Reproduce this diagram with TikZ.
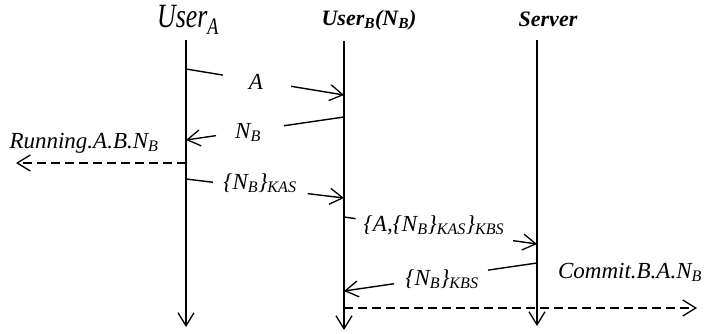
\documentclass[tikz,border=0pt]{standalone}
\usepackage{fontspec}
\setmainfont{Liberation Serif}
\usetikzlibrary{arrows.meta,calc}
\newcommand{\sbs}[1]{\textsubscript{#1}}
\begin{document}
\begin{tikzpicture}[x=1pt,y=-1pt, line width=1.4pt,
  tip/.style={-{Straight Barb[length=13pt,width=16pt,line width=1.3pt]}},
  lbl/.style={font=\fontsize{23}{23}\selectfont\itshape, inner sep=0pt, anchor=base},
  ttl/.style={font=\fontsize{22}{22}\selectfont\bfseries\itshape, inner sep=0pt, anchor=base},
  dsh/.style={dash pattern=on 9pt off 5pt}]
\useasboundingbox (0,0) rectangle (704,333);

% titles
\node[lbl] (tA) at (188,27) {\scalebox{0.76}[1]{\fontsize{34}{34}\selectfont User\sbs{A}}};
\node[ttl] (tB) at (369,25) {User\sbs{B}(N\sbs{B})};
\node[ttl] (tS) at (548,26) {Server};

% lifelines
\coordinate (Atop) at (186,40);  \coordinate (Abot) at (186,327);
\coordinate (Btop) at (344,41);  \coordinate (Bbot) at (344,330);
\coordinate (Stop) at (537,40);  \coordinate (Sbot) at (537,326);
\draw[tip] (Atop) -- (Abot);
\draw[tip] (Btop) -- (Bbot);
\draw[tip] (Stop) -- (Sbot);

% message 1: A
\coordinate (m1s) at (186,69); \coordinate (m1e) at (344,95);
\draw (m1s) -- ($(m1s)!0.234!(m1e)$);
\draw[tip] ($(m1s)!0.665!(m1e)$) -- (m1e);
\node[lbl] (l1) at (256,89) {A};

% message 2: N_B
\coordinate (m2s) at (344,117); \coordinate (m2e) at (186,140);
\draw (m2s) -- ($(m2s)!0.38!(m2e)$);
\draw[tip] ($(m2s)!0.81!(m2e)$) -- (m2e);
\node[lbl] (l2) at (248,138) {N\sbs{B}};

% running
\coordinate (rs) at (186,163); \coordinate (re) at (16,163);
\draw[tip,dsh] (rs) -- (re);
\node[lbl] (lr) at (84,148) {Running.A.B.N\sbs{B}};

% message 3: {N_B}_KAS
\coordinate (m3s) at (186,179); \coordinate (m3e) at (344,198);
\draw (m3s) -- ($(m3s)!0.17!(m3e)$);
\draw[tip] ($(m3s)!0.77!(m3e)$) -- (m3e);
\node[lbl] (l3) at (260,189) {\{N\sbs{B}\}\sbs{KAS}};

% message 4: {A,{N_B}_KAS}_KBS
\coordinate (m4s) at (344,217); \coordinate (m4e) at (537,244);
\draw (m4s) -- ($(m4s)!0.06!(m4e)$);
\draw[tip] ($(m4s)!0.876!(m4e)$) -- (m4e);
\node[lbl] (l4) at (434,231) {\{A,\{N\sbs{B}\}\sbs{KAS}\}\sbs{KBS}};

% message 5: {N_B}_KBS
\coordinate (m5s) at (537,263); \coordinate (m5e) at (344,291);
\draw (m5s) -- ($(m5s)!0.254!(m5e)$);
\draw[tip] ($(m5s)!0.74!(m5e)$) -- (m5e);
\node[lbl] (l5) at (442,285) {\{N\sbs{B}\}\sbs{KBS}};

% commit
\coordinate (cs) at (344,308); \coordinate (ce) at (697,308);
\draw[tip,dsh] (cs) -- (ce);
\node[lbl] (lc) at (630,278) {Commit.B.A.N\sbs{B}};
\end{tikzpicture}
\end{document}
